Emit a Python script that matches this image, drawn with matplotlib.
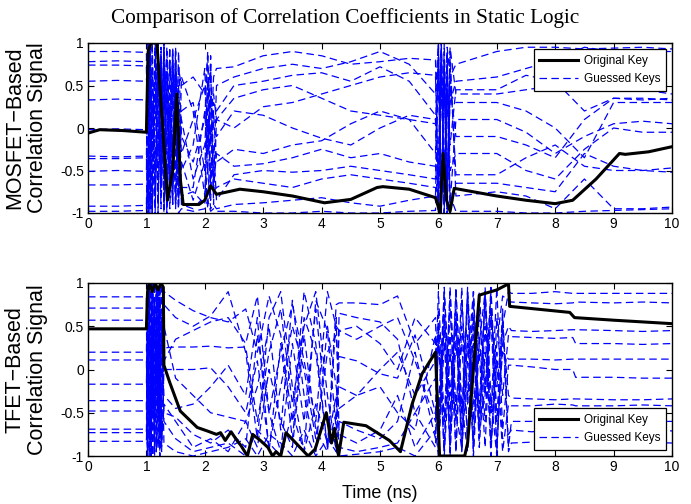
import matplotlib
matplotlib.use("Agg")
import matplotlib.pyplot as plt
from matplotlib.lines import Line2D

plt.rcParams['font.family'] = ['Liberation Sans', 'DejaVu Sans']
plt.rcParams['axes.unicode_minus'] = False

# ------------------------------------------------------------
# MOSFET panel data
# ------------------------------------------------------------

t_top = [0, 0.5, 1.0,
         1.03, 1.06, 1.1, 1.15, 1.2, 1.25, 1.3, 1.35, 1.4, 1.45, 1.5, 1.55, 1.6,
         1.8, 2.0, 2.05, 2.1, 2.15, 2.2,
         2.5, 3.0, 3.5, 4.0, 4.5, 5.0, 5.5, 5.95,
         6.0, 6.05, 6.1, 6.15, 6.2, 6.3,
         7.0, 7.5, 8.0, 8.5, 9.0, 9.5, 10.0]

guess_top = [
    [0.90, 0.90, 0.89,
     -1.0, 0.95, -0.6, 0.9, -0.3, 0.8, -0.9, 0.6, -0.5, 0.95, -0.2, 0.7, 0.5,
     0.6, 0.4, 0.85, -0.2, 0.6, 0.7,
     0.72, 0.85, 0.9, 0.85, 0.75, 0.78, 0.82, 0.8,
     -1.0, 1.0, -0.9, 0.95, 0.6, 0.75,
     0.9, 0.95, 0.95, 0.93, 0.94, 0.95, 0.93],
    [0.78, 0.79, 0.78,
     1.0, -0.95, 0.7, -0.8, 0.9, -0.4, 0.95, -0.9, 0.3, -0.6, 0.9, -0.7, 0.2,
     0.3, -0.5, 0.6, 0.2, -0.6, 0.5,
     0.6, 0.7, 0.75, 0.7, 0.78, 0.9, 0.75, 0.4,
     1.0, -1.0, 0.8, -0.7, 0.3, 0.55,
     0.6, 0.7, 0.8, 0.95, 0.9, 0.9, 0.9],
    [0.74, 0.74, 0.73,
     -0.9, 1.0, -1.0, 0.4, -0.7, 0.95, 0.1, -0.95, 0.8, 0.2, -0.85, 0.9, -0.1,
     -0.4, 0.1, 0.9, -0.7, 0.3, 0.2,
     0.5, 0.55, 0.62, 0.65, 0.55, 0.72, 0.55, 0.15,
     -0.8, 0.9, -1.0, 0.6, -0.2, 0.45,
     0.45, 0.62, 0.55, 0.2, 0.35, 0.35, 0.33],
    [0.55, 0.56, 0.55,
     0.95, -0.5, 1.0, -0.95, 0.6, -0.2, 0.85, 0.3, -0.8, 0.7, 0.0, -0.9, 0.6,
     0.2, -0.8, 0.3, 0.75, -0.9, 0.1,
     0.35, 0.45, 0.5, 0.35, 0.2, 0.15, 0.1, 0.05,
     0.9, -0.95, 1.0, -0.6, 0.4, 0.3,
     0.3, 0.2, 0.0, -0.35, 0.3, 0.3, 0.3],
    [0.33, 0.34, 0.33,
     -1.0, 0.7, -0.3, 1.0, -0.9, 0.5, -0.6, 0.9, -0.3, -0.9, 0.8, 0.1, -0.5,
     -0.2, 0.7, -0.3, 0.4, 0.0, -0.1,
     0.2, 0.15, 0.0, -0.12, -0.2, 0.0, 0.15, 0.1,
     -1.0, 0.95, -0.8, 0.7, -0.9, 0.1,
     0.1, -0.05, -0.3, -0.1, 0.05, 0.08, 0.05],
    [-0.33, -0.34, -0.33,
     1.0, -0.8, 0.2, -1.0, 0.95, -0.6, 0.4, -0.2, 0.95, -0.7, 0.3, -0.95, 0.1,
     -0.6, -0.2, 0.5, -0.85, 0.2, -0.4,
     -0.25, -0.3, -0.2, -0.15, 0.05, 0.2, 0.1, -0.3,
     0.8, -1.0, 0.9, -0.95, 0.5, -0.1,
     -0.1, -0.2, -0.35, 0.1, 0.35, 0.33, 0.35],
    [-0.36, -0.36, -0.35,
     -0.95, 0.9, -0.2, 0.6, -1.0, 0.8, -0.4, 0.95, -0.6, 0.5, -0.95, 0.3, -0.7,
     -0.7, 0.2, -0.5, 0.85, -0.7, -0.3,
     -0.45, -0.42, -0.35, -0.25, -0.35, -0.3, -0.4, -0.45,
     -0.9, 0.7, -1.0, 0.85, -0.5, -0.3,
     -0.3, -0.5, -0.6, -0.25, 0.0, -0.05, -0.05],
    [-0.51, -0.5, -0.51,
     0.9, -1.0, 0.3, -0.5, 1.0, -0.8, 0.7, -0.3, 0.2, -0.9, 0.6, -0.4, -0.8,
     -0.75, -0.9, 0.1, -0.6, -0.2, -0.85,
     -0.55, -0.5, -0.52, -0.5, -0.45, -0.5, -0.55, -0.6,
     1.0, -0.8, 0.6, -1.0, 0.7, -0.55,
     -0.55, -0.35, -0.2, -0.45, -0.5, -0.5, -0.47],
    [-0.67, -0.67, -0.66,
     -0.8, 0.6, -0.95, 0.9, 0.0, -0.7, 0.95, -1.0, 0.5, -0.3, 0.95, -0.85, -0.4,
     -0.85, -0.4, -0.95, 0.0, -0.75, -0.7,
     -0.6, -0.65, -0.7, -0.6, -0.55, -0.6, -0.65, -0.7,
     -0.95, 0.6, -0.7, 0.9, -1.0, -0.65,
     -0.65, -0.7, -0.75, -0.3, -0.45, -0.5, -0.52],
    [-0.92, -0.92, -0.91,
     0.5, -0.9, 0.95, -0.6, -0.2, 0.9, -1.0, 0.4, -0.5, 0.8, -0.9, 0.0, -0.9,
     -0.95, -0.8, -0.5, -0.95, -0.9, -0.95,
     -0.9, -0.88, -0.85, -0.82, -0.88, -0.92, -0.85, -0.8,
     0.7, -0.95, 0.5, -0.85, 0.9, -0.8,
     -0.75, -0.8, -0.95, -0.6, -0.95, -0.95, -0.93],
    [-0.98, -0.98, -0.97,
     -0.2, 1.0, -0.95, 0.3, 0.8, -0.95, 0.2, 0.9, -0.95, -0.1, 0.6, -1.0, -0.95,
     -0.98, -0.95, -0.85, -0.98, -0.95, -0.98,
     -0.98, -1.0, -1.0, -0.98, -1.0, -1.0, -0.98, -0.97,
     -0.3, 0.9, -0.95, 0.4, -0.8, -0.98,
     -0.98, -1.0, -1.0, -0.98, -0.97, -0.96, -0.95],
    [-0.02, -0.01, -0.02,
     0.8, -0.3, -1.0, 0.95, 0.4, -0.6, 1.0, -0.7, -0.1, 0.9, -0.5, 0.5, -0.3,
     0.1, 0.5, -0.2, 0.3, 0.4, 0.1,
     0.0, 0.25, 0.3, 0.4, 0.5, 0.6, 0.65, 0.62,
     -0.6, 1.0, -0.5, -0.95, 0.95, 0.4,
     0.4, 0.45, 0.5, 0.6, 0.5, 0.45, 0.4],
]

t_key_top = [0, 0.2, 0.6, 1.0, 1.03, 1.08, 1.18, 1.28, 1.36, 1.45, 1.52, 1.58, 1.63,
             1.9, 2.0, 2.1, 2.2, 2.6, 3.0, 3.5, 4.05, 4.5, 4.95, 5.05, 5.5, 5.95,
             6.03, 6.08, 6.14, 6.2, 6.27, 7.0, 7.5, 8.0, 8.3, 8.7, 9.1, 9.2, 9.6, 10.0]
key_top = [-0.06, -0.02, -0.03, -0.05, 0.9, 1.0, 1.0, 0.0, -0.85, -0.5, 0.4, -0.6, -0.9,
           -0.9, -0.85, -0.68, -0.78, -0.72, -0.75, -0.8, -0.88, -0.84, -0.7, -0.69, -0.72, -0.82,
           -1.0, -0.3, -0.85, -0.98, -0.71, -0.8, -0.85, -0.89, -0.85, -0.6, -0.3, -0.31, -0.28, -0.22]

# ------------------------------------------------------------
# TFET panel data
# ------------------------------------------------------------

t_bot = [0, 0.5, 1.0,
         1.02, 1.05, 1.08, 1.11, 1.14, 1.17, 1.2, 1.23, 1.26, 1.3,
         1.5, 1.8, 2.1, 2.4, 2.7, 2.9, 3.1, 3.3, 3.5, 3.7, 3.9, 4.1, 4.25, 4.3,
         4.6, 5.0, 5.3, 5.6, 5.95,
         6.0, 6.1, 6.2, 6.3, 6.4, 6.5, 6.6, 6.7, 6.8, 6.9, 7.0, 7.1, 7.2,
         7.25, 7.6, 8.0, 8.3, 8.35, 9.0, 9.5, 10.0]

guess_bot = [
    [0.84, 0.84, 0.84,
     -1.0, 0.9, -0.8, 1.0, -0.5, 0.95, -0.9, 0.8, 0.2, 0.9,
     0.8, 0.68, 0.6, 0.55, 0.7, 0.2, 0.85, 0.4, -0.6, 0.9, 0.3, -0.9, 0.75, 0.77,
     0.77, 0.75, 0.85, 0.3, 0.6,
     -0.9, 0.8, -1.0, 0.5, -0.7, 0.95, -0.4, 0.2, -0.9, 0.7, -0.2, 0.5, 0.9,
     0.88, 0.88, 0.9, 0.88, 0.88, 0.88, 0.88, 0.88],
    [0.71, 0.71, 0.71,
     0.9, -0.9, 0.6, -0.4, 1.0, -0.95, 0.3, -0.7, 0.95, 0.75,
     0.6, 0.5, 0.62, 0.9, 0.2, -0.8, 0.6, 0.9, -0.2, -0.95, 0.8, 0.45, -0.7, 0.65,
     0.6, 0.55, 0.35, -0.5, -0.1,
     0.9, -0.6, 0.4, -0.95, 0.8, -0.3, 0.6, -0.8, 0.95, -0.5, 0.3, 0.85, 0.8,
     0.78, 0.77, 0.76, 0.77, 0.78, 0.77, 0.78, 0.77],
    [0.57, 0.57, 0.57,
     -0.6, 1.0, -1.0, 0.3, -0.8, 0.6, 0.95, -0.5, 0.4, 0.1,
     0.35, 0.45, 0.55, 0.6, 0.3, 0.85, -0.5, 0.2, 0.75, 0.1, -0.6, 0.9, 0.5, 0.45,
     0.5, 0.3, 0.0, 0.6, 0.3,
     -0.5, 0.9, -0.3, 0.7, -0.95, 0.4, -0.6, 0.9, -0.2, 0.6, -0.9, 0.3, 0.5,
     0.45, 0.44, 0.45, 0.46, 0.46, 0.45, 0.44, 0.45],
    [0.2, 0.2, 0.2,
     1.0, -0.7, 0.5, -1.0, 0.8, -0.3, 0.6, -0.9, -0.2, 0.25,
     0.26, 0.26, 0.27, 0.25, 0.26, -0.6, 0.2, 0.7, -0.4, 0.5, 0.9, -0.3, -0.95, 0.15,
     0.1, -0.05, -0.1, 0.4, -0.5,
     0.7, -0.9, 0.95, -0.4, 0.3, -0.8, 0.9, -0.6, 0.5, -1.0, 0.6, -0.3, 0.4,
     0.38, 0.37, 0.36, 0.37, 0.3, 0.3, 0.29, 0.3],
    [0.11, 0.11, 0.11,
     -0.9, 0.6, -0.2, 0.95, -0.9, 0.3, -0.6, 1.0, -0.95, 0.0,
     0.0, 0.0, 0.02, -0.2, -0.5, 0.1, -0.9, -0.2, 0.5, 0.0, -0.8, 0.2, 0.4, -0.2,
     -0.3, 0.0, 0.2, -0.3, 0.1,
     -0.95, 0.6, -0.7, 0.85, -0.5, 0.3, -0.95, 0.7, -0.3, 0.9, -0.6, 0.2, 0.12,
     0.12, 0.12, 0.11, 0.12, 0.12, 0.12, 0.12, 0.12],
    [-0.17, -0.17, -0.17,
     0.7, -1.0, 0.9, -0.5, 0.2, -0.95, 0.8, -0.2, 0.6, -0.3,
     -0.45, -0.4, -0.2, 0.05, -0.3, 0.6, -0.95, 0.3, -0.8, 0.6, 0.2, -0.9, -0.5, 0.45,
     0.35, 0.5, 0.6, 0.1, -0.6,
     0.3, -0.6, 0.9, -0.95, 0.5, -0.4, 0.8, -0.9, 0.2, -0.5, 0.95, -0.7, 0.05,
     0.05, 0.03, 0.0, 0.0, -0.09, -0.09, -0.1, -0.1],
    [-0.36, -0.36, -0.36,
     -1.0, 0.8, -0.3, 0.5, -0.9, 1.0, -0.5, 0.3, -0.8, 0.5,
     -0.1, -0.3, -0.5, -0.55, -0.6, -0.2, 0.5, -0.7, 0.8, -0.3, -0.95, 0.5, -0.2, -0.45,
     -0.3, -0.2, -0.5, -0.7, 0.4,
     -0.7, 0.5, -0.9, 0.3, -0.5, 0.9, -0.8, 0.4, -0.6, 0.8, -0.95, 0.5, -0.3,
     -0.33, -0.34, -0.35, -0.34, -0.34, -0.35, -0.35, -0.34],
    [-0.48, -0.48, -0.48,
     0.4, -0.6, 1.0, -0.8, 0.7, -0.4, 0.95, -1.0, 0.1, -0.5,
     -0.55, -0.75, -0.85, -0.7, -0.9, 0.4, -0.5, -0.95, 0.3, -0.6, 0.7, -0.6, -0.9, -0.6,
     -0.7, -0.8, -0.6, 0.2, -0.8,
     0.5, -1.0, 0.2, -0.6, 0.95, -0.9, 0.3, -0.4, 0.8, -0.85, 0.1, -0.95, -0.4,
     -0.42, -0.42, -0.4, -0.41, -0.42, -0.42, -0.41, -0.42],
    [-0.69, -0.69, -0.69,
     -0.95, 0.95, -0.7, 0.2, -1.0, 0.7, -0.3, 0.9, -0.85, -0.4,
     -0.6, -0.9, -0.8, -0.95, -0.6, -0.9, 0.0, -0.6, -0.9, 0.4, -0.7, -0.95, 0.6, -0.75,
     -0.85, -0.7, -0.3, -0.9, -0.5,
     -0.8, 0.95, -0.5, 0.6, -0.95, 0.1, 0.9, -0.7, -0.3, 0.95, -0.6, 0.7, -0.9,
     -0.6, -0.6, -0.58, -0.59, -0.6, -0.6, -0.6, -0.6],
    [-0.73, -0.73, -0.73,
     0.6, -0.95, 0.3, 1.0, -0.6, -0.1, 0.8, -0.95, 0.5, -0.6,
     -0.8, -0.95, -0.9, -0.85, -1.0, -0.7, -0.85, -1.0, -0.5, -0.95, -0.4, -0.85, -0.3, -0.9,
     -0.95, -0.9, -0.85, -0.5, -0.9,
     0.4, -0.95, 0.7, -0.5, -0.9, 0.8, -1.0, 0.3, 0.9, -0.9, 0.2, -0.8, -0.75,
     -0.7, -0.72, -0.7, -0.71, -0.72, -0.72, -0.7, -0.71],
    [-0.83, -0.83, -0.83,
     -0.3, 0.9, -1.0, 0.6, -0.2, 0.95, -0.9, -0.3, 0.7, -0.85,
     -0.95, -1.0, -0.95, -0.9, -0.8, -1.0, -0.75, -0.85, -1.0, -0.7, -1.0, -0.8, -0.95, -1.0,
     -0.98, -0.95, -0.9, -1.0, -0.7,
     -1.0, 0.3, -0.8, 0.95, -0.4, -0.95, 0.5, -0.6, 0.85, -0.3, -1.0, 0.6, -0.95,
     -0.85, -0.84, -0.85, -0.86, -0.85, -0.85, -0.84, -0.85],
]

t_key_bot = [0, 1.0, 1.02, 1.05, 1.1, 1.15, 1.2, 1.25, 1.29, 1.3,
             1.4, 1.58, 1.87, 2.04, 2.2, 2.27, 2.35, 2.45, 2.55, 2.62,
             2.73, 2.82, 2.95, 3.08, 3.16, 3.22, 3.3, 3.39, 3.77, 3.89,
             4.08, 4.17, 4.22, 4.29, 4.38, 4.76, 5.16, 5.35, 5.55, 5.72,
             5.95, 6.02, 6.45, 6.5, 6.7, 7.0, 7.2, 7.22, 8.25, 8.33,
             9.0, 10.0]
key_bot = [0.47, 0.47, 0.9, 1.0, 0.9, 1.0, 0.92, 1.0, 0.95, 0.05,
           -0.15, -0.48, -0.67, -0.71, -0.75, -0.73, -0.82, -0.72, -0.82, -0.88,
           -1.0, -0.75, -0.82, -0.9, -1.0, -0.95, -1.0, -0.73, -1.0, -0.92,
           -0.5, -0.85, -0.68, -1.0, -0.61, -0.65, -0.82, -0.95, -0.4, -0.05,
           0.2, -1.0, -1.0, -0.85, 0.86, 0.92, 0.99, 0.73, 0.66, 0.6,
           0.57, 0.53]

ylabels = ["MOSFET\u2212Based\nCorrelation Signal", "TFET\u2212Based\nCorrelation Signal"]
yticks = [-1, -0.5, 0, 0.5, 1]
ytick_labels = ["-1", "-0.5", "0", "0.5", "1"]
xticks = list(range(0, 11))

# ------------------------------------------------------------
# Figure
# ------------------------------------------------------------

BLUE = '#0000ff'
DASH = (0, (6, 3.5))

fig = plt.figure(figsize=(6.91, 5.04), dpi=100)
ax_top = fig.add_axes([88 / 691, 1 - 213 / 504, 584 / 691, 170 / 504])
ax_bot = fig.add_axes([88 / 691, 1 - 456 / 504, 584 / 691, 173 / 504])

panels = [
    (ax_top, t_top, guess_top, t_key_top, key_top, ylabels[0], 'upper right'),
    (ax_bot, t_bot, guess_bot, t_key_bot, key_bot, ylabels[1], 'lower right'),
]

for ax, t, guesses, tk, key, ylab, loc in panels:
    for g in guesses:
        ax.plot(t, g, color=BLUE, lw=0.9, linestyle=DASH, zorder=2)
    ax.plot(tk, key, color='black', lw=2.2, zorder=3)

    ax.set_xlim(0, 10)
    ax.set_ylim(-1, 1)
    ax.set_xticks(xticks)
    ax.set_yticks(yticks)
    ax.set_yticklabels(ytick_labels)
    ax.tick_params(direction='in', top=True, right=True, length=4, width=0.8,
                   labelsize=10, pad=3)
    for sp in ax.spines.values():
        sp.set_linewidth(1.0)
    ax.set_ylabel(ylab, fontsize=15.5, linespacing=1.1)
    ax.yaxis.set_label_coords(-0.068, 0.5)

    handles = [Line2D([], [], color='black', lw=2.2),
               Line2D([], [], color=BLUE, lw=0.9, linestyle=DASH)]
    leg = ax.legend(handles, ['Original Key', 'Guessed Keys'], loc=loc,
                    fontsize=8.5, fancybox=False, framealpha=1, edgecolor='black',
                    handlelength=3.3, handletextpad=0.45, borderaxespad=0.5,
                    borderpad=0.5, labelspacing=0.5)
    leg.get_frame().set_linewidth(0.9)

ax_bot.set_xlabel("Time (ns)", fontsize=13, labelpad=8)

fig.text(0.5, 1 - 18 / 504, "Comparison of Correlation Coefficients in Static Logic",
         ha='center', va='center', fontsize=15.3, family='Liberation Serif')

fig.savefig("out.png", dpi=100)
